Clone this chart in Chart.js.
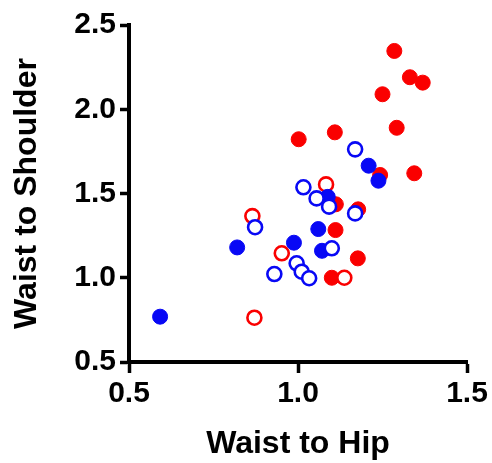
<!DOCTYPE html>
<html>
<head>
<meta charset="utf-8">
<script src="https://cdn.jsdelivr.net/npm/chart.js@4/dist/chart.umd.min.js"></script>
<style>
  html, body { margin: 0; padding: 0; background: #fff; }
  #wrap { width: 492px; height: 463px; }
</style>
</head>
<body>
<div id="wrap"><canvas id="chart" width="492" height="463"></canvas></div>
<script>
// values: [waist to hip, waist to shoulder]
var redFilledX = [1.285, 1.331, 1.369, 1.250, 1.292, 1.109, 1.002, 1.344, 1.243, 1.112, 1.178, 1.111, 1.177, 1.100];
var redFilledY = [2.346, 2.190, 2.158, 2.089, 1.890, 1.863, 1.822, 1.620, 1.610, 1.436, 1.406, 1.283, 1.115, 1.000];

var redOpenX = [0.865, 0.952, 1.083, 1.137, 0.871];
var redOpenY = [1.366, 1.145, 1.554, 1.000, 0.763];

var blueFilledX = [0.592, 0.820, 0.988, 1.060, 1.071, 1.209, 1.238, 1.088];
var blueFilledY = [0.769, 1.180, 1.208, 1.289, 1.160, 1.665, 1.576, 1.480];

var blueOpenX = [1.169, 1.016, 1.055, 1.092, 1.169, 0.873, 1.100, 0.930, 0.996, 1.011, 1.033];
var blueOpenY = [1.762, 1.537, 1.471, 1.422, 1.382, 1.300, 1.175, 1.022, 1.086, 1.036, 0.997];

var xTicks = [0.5, 1.0, 1.5];
var yTicks = [0.5, 1.0, 1.5, 2.0, 2.5];

var red = 'rgb(250, 0, 0)';
var blue = 'rgb(8, 8, 245)';

function pts(xs, ys) {
  return xs.map(function(x, i) { return { x: x, y: ys[i] }; });
}

var fontFamily = '"Liberation Sans", Arial, Helvetica, sans-serif';

// dataset 0 is drawn on top
var data = {
  datasets: [{
    label: 'blue open',
    data: pts(blueOpenX, blueOpenY),
    pointRadius: 7,
    pointBorderWidth: 2.6,
    pointBackgroundColor: '#fff',
    pointBorderColor: blue
  }, {
    label: 'blue filled',
    data: pts(blueFilledX, blueFilledY),
    pointRadius: 7.5,
    pointBorderWidth: 1,
    pointBackgroundColor: blue,
    pointBorderColor: blue
  }, {
    label: 'red open',
    data: pts(redOpenX, redOpenY),
    pointRadius: 7,
    pointBorderWidth: 2.6,
    pointBackgroundColor: '#fff',
    pointBorderColor: red
  }, {
    label: 'red filled',
    data: pts(redFilledX, redFilledY),
    pointRadius: 7.5,
    pointBorderWidth: 1,
    pointBackgroundColor: red,
    pointBorderColor: red
  }]
};

var ctx = document.getElementById('chart');
var chart = new Chart(ctx, {
  type: 'scatter',
  data: data,
  options: {
    responsive: false,
    animation: false,
    clip: false,
    layout: {
      padding: { left: 0, right: 25, top: 25, bottom: 0 }
    },
    plugins: {
      legend: { display: false },
      tooltip: { enabled: false }
    },
    scales: {
      x: {
        type: 'linear',
        min: 0.5,
        max: 1.5,
        afterBuildTicks: function(scale) {
          scale.ticks = xTicks.map(function(v) { return { value: v }; });
        },
        afterFit: function(scale) { scale.height = 101; },
        grid: {
          drawOnChartArea: false,
          drawTicks: true,
          tickLength: 11,
          tickWidth: 3.5,
          tickColor: '#000'
        },
        border: { display: true, color: '#000', width: 4 },
        ticks: {
          padding: 3,
          color: '#000',
          font: { family: fontFamily, size: 30, weight: 'bold' },
          callback: function(v) { return Number(v).toFixed(1); }
        },
        title: {
          display: true,
          text: 'Waist to Hip',
          color: '#000',
          font: { family: fontFamily, size: 32, weight: 'bold' },
          padding: { top: 0, bottom: 0 }
        }
      },
      y: {
        type: 'linear',
        min: 0.5,
        max: 2.5,
        afterBuildTicks: function(scale) {
          scale.ticks = yTicks.map(function(v) { return { value: v }; });
        },
        afterFit: function(scale) { scale.width = 129; },
        grid: {
          drawOnChartArea: false,
          drawTicks: true,
          tickLength: 9,
          tickWidth: 3.5,
          tickColor: '#000'
        },
        border: { display: true, color: '#000', width: 4 },
        ticks: {
          padding: 4,
          color: '#000',
          font: { family: fontFamily, size: 30, weight: 'bold' },
          callback: function(v) { return Number(v).toFixed(1); }
        },
        title: {
          display: true,
          text: 'Waist to Shoulder',
          color: '#000',
          font: { family: fontFamily, size: 32, weight: 'bold' },
          padding: { top: 8, bottom: 0 }
        }
      }
    }
  }
});
</script>
</body>
</html>
